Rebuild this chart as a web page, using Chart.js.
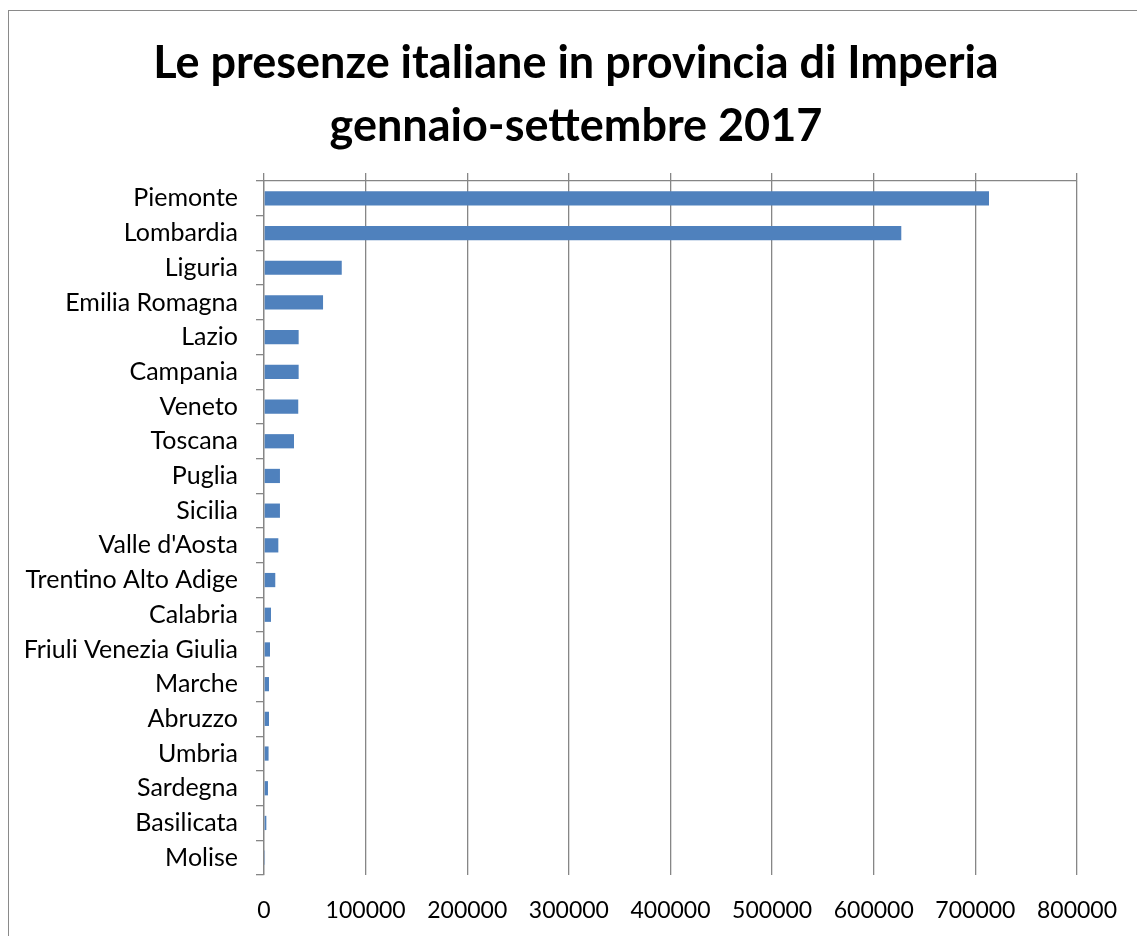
<!DOCTYPE html>
<html>
<head>
<meta charset="utf-8">
<script src="https://cdn.jsdelivr.net/npm/chart.js@4"></script>
<style>
    html, body { margin: 0; padding: 0; background: #fff; overflow: hidden; }
    #wrap { position: relative; width: 1137px; height: 936px; }
    #frame { position: absolute; left: 8px; top: 10px; width: 1200px; height: 1000px;
             border: 1px solid #8a8a8a; pointer-events: none; }
</style>
</head>
<body>
<div id="wrap">
    <canvas id="chart" width="1137" height="936"></canvas>
    <div id="frame"></div>
</div>
<script>
// Presenze italiane per regione di provenienza, gennaio-settembre 2017
var regioni = ['Piemonte', 'Lombardia', 'Liguria', 'Emilia Romagna', 'Lazio', 'Campania',
    'Veneto', 'Toscana', 'Puglia', 'Sicilia', "Valle d'Aosta", 'Trentino Alto Adige',
    'Calabria', 'Friuli Venezia Giulia', 'Marche', 'Abruzzo', 'Umbria', 'Sardegna',
    'Basilicata', 'Molise'];
var presenze = [713400, 627100, 76500, 58100, 34100, 34100, 33700, 29500, 15700, 15700,
    14100, 11100, 6900, 5900, 4900, 4900, 4500, 3900, 2300, 1000];
var titolo = ['Le presenze italiane in provincia di Imperia', 'gennaio-settembre 2017'];
var asseMin = 0;
var asseMax = 800000;
var passo = 100000;

var grigio = '#868686';
var fontName = 'Lato, "DejaVu Sans", sans-serif';

document.addEventListener('DOMContentLoaded', function () {
    var ctx = document.getElementById('chart').getContext('2d');
    new Chart(ctx, {
        type: 'bar',
        data: {
            labels: regioni,
            datasets: [{
                label: 'Presenze',
                data: presenze,
                backgroundColor: '#4F81BD',
                borderWidth: 0,
                barPercentage: 0.41,
                categoryPercentage: 1
            }]
        },
        options: {
            indexAxis: 'y',
            responsive: false,
            animation: false,
            // negative right padding moves the title centre right; the x scale keeps its own margin
            layout: { padding: { left: 0, right: -15, top: 0, bottom: 0 } },
            plugins: {
                legend: { display: false },
                tooltip: { enabled: false },
                title: {
                    display: true,
                    text: titolo,
                    color: '#000',
                    font: { family: fontName, size: 45, weight: 'bold', lineHeight: 1.4 },
                    padding: { top: 32, bottom: 15 }
                }
            },
            scales: {
                x: {
                    position: 'bottom',
                    min: asseMin,
                    max: asseMax,
                    border: { display: false },
                    grid: { color: grigio, lineWidth: 1.3, drawTicks: false },
                    ticks: {
                        stepSize: passo,
                        color: '#000',
                        padding: 22,
                        font: { family: fontName, size: 23 },
                        callback: function (v) { return String(v); }
                    },
                    afterFit: function (scale) {
                        scale.height = 61;
                        scale.paddingRight = 60;
                    }
                },
                x2: {
                    type: 'linear',
                    position: 'top',
                    min: asseMin,
                    max: asseMax,
                    border: { display: true, color: grigio, width: 1.3 },
                    grid: { color: grigio, lineWidth: 1.3, drawOnChartArea: false, tickLength: 8 },
                    ticks: { stepSize: passo, display: false },
                    afterFit: function (scale) { scale.height = 8; }
                },
                y: {
                    border: { display: true, color: grigio, width: 1.3 },
                    grid: { color: grigio, lineWidth: 1.3, drawOnChartArea: false, tickLength: 8, offset: true },
                    ticks: {
                        color: '#000',
                        padding: 18,
                        font: { family: fontName, size: 25 }
                    },
                    afterFit: function (scale) { scale.width = 264; }
                }
            }
        }
    });
});
</script>
</body>
</html>
